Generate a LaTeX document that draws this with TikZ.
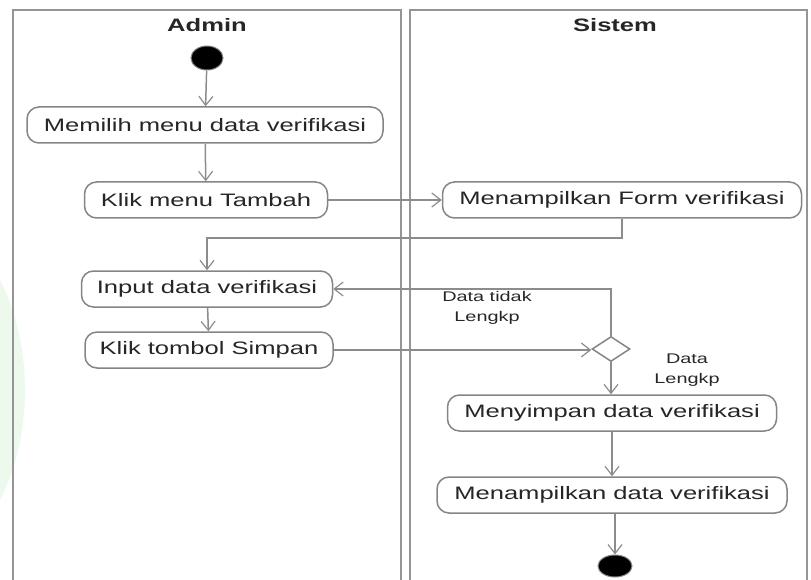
\documentclass[tikz,border=0pt]{standalone}
\usepackage{fontspec}
\setmainfont{Liberation Sans}[FakeStretch=1.42]
\usetikzlibrary{arrows.meta,shapes.geometric}
\definecolor{lanec}{HTML}{959595}
\definecolor{boxc}{HTML}{858585}
\definecolor{linec}{HTML}{8C8C8C}
\definecolor{txtc}{HTML}{262626}
\definecolor{wm}{HTML}{E2F5E1}
\tikzset{
  act/.style={draw=boxc, line width=1.5pt, rounded corners=12pt, minimum height=36pt,
    inner sep=0pt, font=\fontsize{18}{20}\selectfont, text=txtc, fill=white},
  lane/.style={draw=lanec, line width=2.8pt},
  flow/.style={draw=linec, line width=1.5pt, -{Straight Barb[length=9pt,width=14pt,line width=1.2pt]}},
  ttl/.style={font=\fontsize{18}{20}\selectfont\bfseries, text=txtc},
  lbl/.style={font=\fontsize{14}{20}\selectfont, text=txtc, align=center},
  startnode/.style={ellipse, fill=black, draw=boxc, line width=1pt, inner sep=0pt}
}
\begin{document}
\begin{tikzpicture}[x=1pt,y=-1pt]
\useasboundingbox (0,0) rectangle (811,580);
% faint watermark at left edge
\fill[wm, opacity=0.6] (-110,390) ellipse [x radius=135, y radius=190];
% swimlanes
\draw[lane] (13,585) -- (13,10) -- (401,10) -- (401,585);
\draw[lane] (410,585) -- (410,10) -- (807,10) -- (807,585);
\node[ttl] (admin) at (207,25) {Admin};
\node[ttl] (sistem) at (615,25) {Sistem};
% nodes
\node[startnode, minimum width=32pt, minimum height=24pt] (start) at (207,58) {};
\node[act, minimum width=356pt] (memilih) at (205,125) {Memilih menu data verifikasi};
\node[act, minimum width=243pt] (tambah) at (206,200) {Klik menu Tambah};
\node[act, minimum width=359pt] (form) at (622,200) {Menampilkan Form verifikasi};
\node[act, minimum width=251pt] (input) at (207,289) {Input data verifikasi};
\node[act, minimum width=248pt] (simpan) at (209,350) {Klik tombol Simpan};
\node[diamond, draw=boxc, line width=1.5pt, fill=white, minimum width=38pt, minimum height=25pt, inner sep=0pt] (dia) at (611,349) {};
\node[act, minimum width=329pt] (menyimpan) at (612,413) {Menyimpan data verifikasi};
\node[act, minimum width=350pt] (tampil) at (612,495) {Menampilkan data verifikasi};
\node[startnode, minimum width=34pt, minimum height=22pt] (end) at (615,566) {};
\coordinate (bend) at (207,238);
% labels
\node[lbl] (ltidak) at (487,308) {Data tidak\\Lengkp};
\node[lbl] (llengkap) at (687,370) {Data\\Lengkp};
% connectors
\draw[flow] (start) -- (memilih);
\draw[flow] (memilih) -- (tambah);
\draw[flow] (tambah) -- (form);
\draw[flow] (form.south) |- (bend) -- (input.north);
\draw[flow] (input) -- (simpan);
\draw[flow] (simpan.east) -- (simpan.east -| dia.west);
\draw[flow] (dia.north) |- (input.east);
\draw[flow] (dia.south) -- (menyimpan.north -| dia.south);
\draw[flow] (menyimpan) -- (tampil);
\draw[flow] (tampil.south -| end.north) -- (end.north);
\end{tikzpicture}
\end{document}
